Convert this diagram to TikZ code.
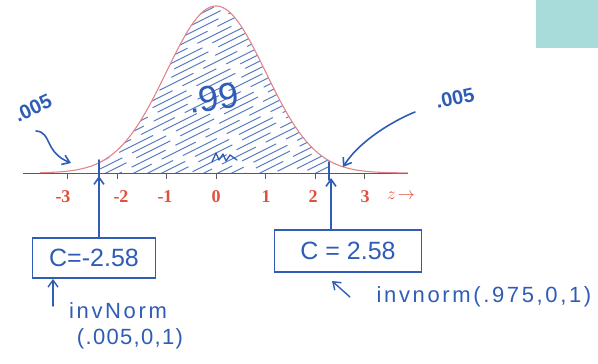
\documentclass[tikz,border=0pt]{standalone}
\usepackage{fontspec}
\setmainfont{Liberation Sans}
\newfontfamily\numfont{Liberation Serif}
\newfontfamily\wideink[LetterSpace=12]{Liberation Sans}
\newfontfamily\midink[LetterSpace=6]{Liberation Sans}
\usetikzlibrary{arrows.meta}
\definecolor{ink}{HTML}{2F5CB5}
\definecolor{curvec}{HTML}{E3848C}
\definecolor{axisc}{HTML}{5A5A5A}
\definecolor{numc}{HTML}{E0503C}
\definecolor{tealc}{HTML}{A7DCDB}
\tikzset{
  hand/.style={ink, line width=1.6pt, line cap=round, line join=round},
  handarrow/.style={hand, -{Straight Barb[length=7pt,width=10pt]}},
  cbox/.style={draw=ink, line width=1.8pt, text=ink, inner sep=0pt, font=\fontsize{25}{28}\selectfont},
  inktext/.style={text=ink, inner sep=0pt, font=\wideink\fontsize{22}{25}\selectfont},
  znum/.style={text=numc, inner sep=0pt, font=\numfont\bfseries\fontsize{18}{20}\selectfont},
  tickmark/.style={axisc, line width=0.8pt},
  hatch/.style={ink, line width=1.1pt, opacity=0.8, dash pattern=on 38pt off 11pt}
}
\begin{document}
\begin{tikzpicture}[x=1pt,y=-1pt]
\useasboundingbox (0,0) rectangle (598,364);
% teal patch
\fill[tealc] (536,0) rectangle (598,48);
% hatching
\begin{scope}
\clip (99,173) -- plot[domain=99:329, samples=80] (\x, {173-167*exp(-0.5*((\x-216)/49.5)*((\x-216)/49.5))}) -- (329,173) -- cycle;
\foreach \i in {0,...,48}{
  \pgfmathsetmacro{\ph}{mod(\i*31+mod(\i*\i,49)*5,49)}
  \draw[hatch, dash phase=\ph pt] ({-250+\i*14},190) -- ++(400,-200);
}
\end{scope}
% axis
\draw[axisc, line width=1pt] (23,173) -- (408,173);
\foreach \k in {-3,...,3}{
  \draw[tickmark] ({216+\k*49.5},173) -- ++(0,6);
}
% curve
\draw[curvec, line width=1.1pt] plot[domain=40:408, samples=160] (\x, {173-167*exp(-0.5*((\x-216)/49.5)*((\x-216)/49.5))});
% axis numbers
\node[znum] (nm3) at (63,197) {-3};
\node[znum] (nm2) at (121,197) {-2};
\node[znum] (nm1) at (165,197) {-1};
\node[znum] (n0) at (216,197) {0};
\node[znum] (n1) at (266,197) {1};
\node[znum] (n2) at (313,197) {2};
\node[znum] (n3) at (365,197) {3};
\node[text=numc, inner sep=0pt, font=\fontsize{16}{18}\selectfont] (nz) at (401,196) {$z\!\rightarrow$};
% markers at c
\coordinate (mL) at (99,176);
\coordinate (mR) at (331,178);
\draw[hand] (99,160) -- (99,178);
\draw[hand] (329,162) -- (329,180);
% .99 label
\node[text=ink, inner sep=0pt, font=\fontsize{36}{40}\selectfont, rotate=8] (p99) at (214,98) {.99};
\draw[hand, line width=1.3pt] (212,162) -- (216,153) -- (219,160) -- (223,154) -- (226,161) -- (230,155) -- (237,160);
% boxes
\node[cbox, minimum width=123pt, minimum height=40pt] (boxL) at (94,258) {C=-2.58};
\node[cbox, minimum width=147pt, minimum height=42pt] (boxR) at (348,251) {C = 2.58};
\draw[handarrow] (boxL.north -| mL) -- (mL);
\draw[handarrow] (boxR.north -| mR) -- (mR);
% invNorm labels
\node[inktext] (invL) at (118,311) {invNorm};
\node[inktext, font=\midink\fontsize{22}{25}\selectfont] (argL) at (130,339) {(.005,0,1)};
\coordinate (aL) at (53,306);
\draw[handarrow, line width=1.4pt] (aL) -- (boxL.south -| aL);
\node[inktext] (invR) at (484,297) {invnorm(.975,0,1)};
\coordinate (aR) at (350,297);
\coordinate (aRt) at (332,281);
\draw[handarrow, line width=1.4pt] (aR) -- (aRt);
% tail labels
\node[text=ink, inner sep=0pt, font=\bfseries\fontsize{20}{22}\selectfont, rotate=25] (tL) at (33,108) {.005};
\node[text=ink, inner sep=0pt, font=\bfseries\fontsize{20}{22}\selectfont, rotate=12] (tR) at (455,98) {.005};
\coordinate (sL) at (36,131);
\coordinate (sR) at (415,112);
\coordinate (tipL) at (71,163);
\coordinate (tipR) at (343,167);
\draw[handarrow] (sL) .. controls (52,132) and (44,152) .. (tipL);
\draw[handarrow] (sR) .. controls (395,120) and (360,140) .. (tipR);
\end{tikzpicture}
\end{document}
